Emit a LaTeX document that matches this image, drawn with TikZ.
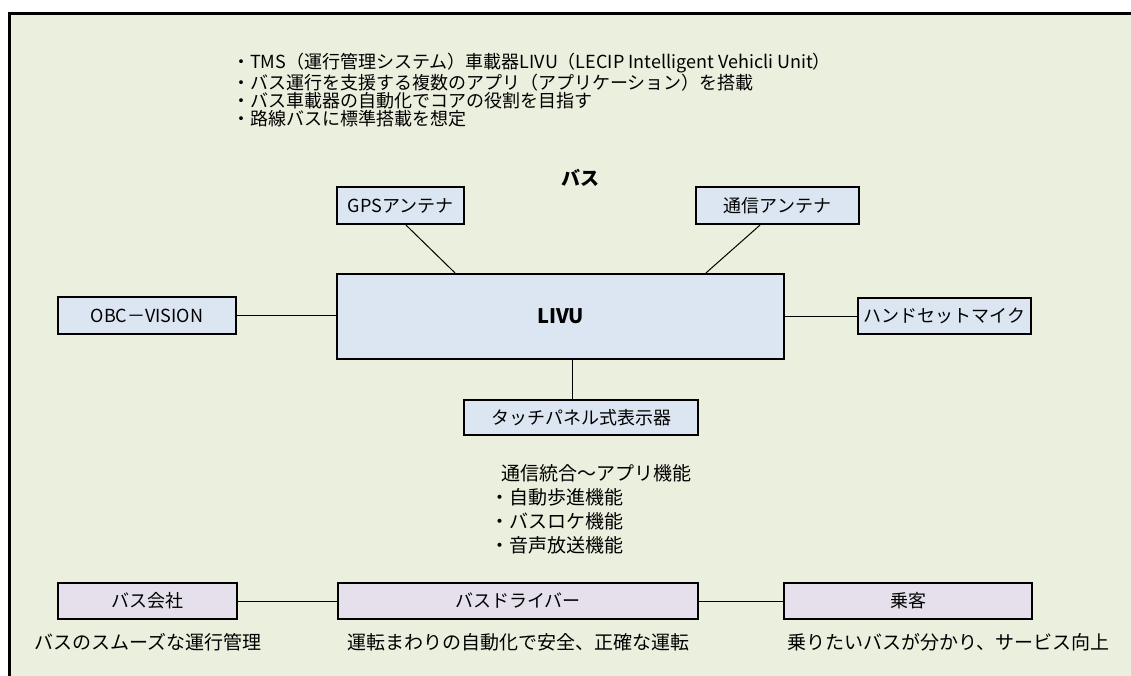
\documentclass[tikz,border=0pt]{standalone}
\usepackage{fontspec}
\setmainfont{Noto Sans CJK JP}
\definecolor{sheetfill}{HTML}{EBEFDE}
\definecolor{unitfill}{HTML}{DCE6F2}
\definecolor{actorfill}{HTML}{E5E0EC}
\begin{document}
\begin{tikzpicture}[x=1pt,y=-1pt,
        unit/.style={draw,line width=2.2pt,fill=unitfill,inner sep=0pt,
            font=\fontsize{18}{18}\selectfont},
        actor/.style={unit,fill=actorfill},
        link/.style={line width=1pt},
        note/.style={inner sep=0pt,align=left,anchor=north west}]
    \useasboundingbox (0,0) rectangle (1131,676);
    % sheet
    \fill[sheetfill] (9,14) rectangle (1131,676);
    \draw[line width=3pt] (9,676) -- (9,14) -- (1131,14);
    \node[note,font=\fontsize{18}{18}\selectfont] (notes) at (232,53)
        {・TMS（運行管理システム）車載器LIVU（LECIP Intelligent Vehicli Unit）\\
         ・バス運行を支援する複数のアプリ（アプリケーション）を搭載\\
         ・バス車載器の自動化でコアの役割を目指す\\
         ・路線バスに標準搭載を想定};
    \node[font=\bfseries\fontsize{19}{19}\selectfont] (bus) at (580,178) {バス};
    % units
    \node[unit,minimum width=127pt,minimum height=37pt] (gps) at (400.5,205.5) {GPSアンテナ};
    \node[unit,minimum width=163pt,minimum height=37pt] (com) at (777.5,205.5) {通信アンテナ};
    \node[unit,minimum width=447pt,minimum height=85pt,
        font=\bfseries\fontsize{20}{20}\selectfont] (livu) at (560.5,316.5) {LIVU};
    \node[unit,minimum width=178pt,minimum height=37pt] (obc) at (147,315.5) {OBC－VISION};
    \node[unit,minimum width=173pt,minimum height=36pt] (mic) at (944.5,316) {ハンドセットマイク};
    \node[unit,minimum width=234pt,minimum height=35pt] (touch) at (581,417.5) {タッチパネル式表示器};
    \draw[link] ([xshift=5.5pt]gps.south) -- ([xshift=-105.5pt]livu.north);
    \draw[link] ([xshift=-17.5pt]com.south) -- ([xshift=145.5pt]livu.north);
    \draw[link] (obc.east) -- (obc.east -| livu.west);
    \draw[link] (mic.west) -- (mic.west -| livu.east);
    \draw[link] ([xshift=-9pt]touch.north) -- ([xshift=-9pt]touch.north |- livu.south);
    \node[note,font=\fontsize{19}{24}\selectfont] (apps) at (490,464.5)
        {\hspace{11pt}通信統合～アプリ機能\\
         ・自動歩進機能\\
         ・バスロケ機能\\
         ・音声放送機能};
    % actors
    \node[actor,minimum width=179pt,minimum height=36pt] (company) at (147.5,601) {バス会社};
    \node[actor,minimum width=360pt,minimum height=36pt] (driver) at (518,601) {バスドライバー};
    \node[actor,minimum width=248pt,minimum height=36pt] (rider) at (908,601) {乗客};
    \draw[link] (company) -- (driver);
    \draw[link] (driver) -- (rider);
    \node[font=\fontsize{19}{19}\selectfont] (companynote) at (148,642) {バスのスムーズな運行管理};
    \node[font=\fontsize{19}{19}\selectfont] (drivernote) at (518,642) {運転まわりの自動化で安全、正確な運転};
    \node[font=\fontsize{19}{19}\selectfont] (ridernote) at (948.5,642) {乗りたいバスが分かり、サービス向上};
\end{tikzpicture}
\end{document}
